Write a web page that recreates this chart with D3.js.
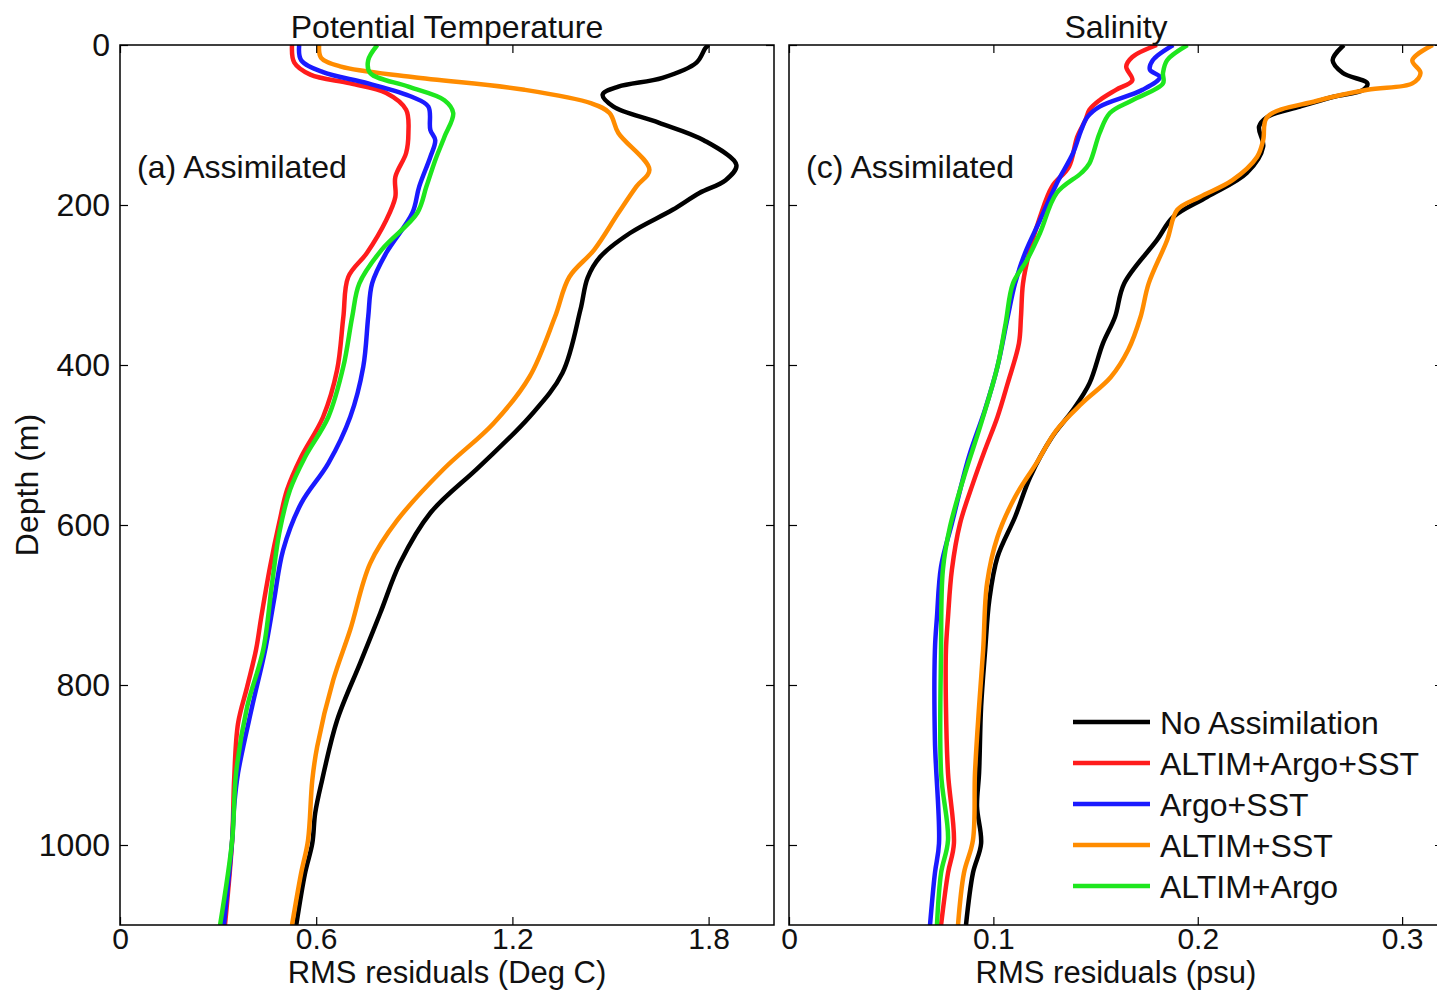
<!DOCTYPE html>
<html>
<head>
<meta charset="utf-8">
<script src="https://cdn.jsdelivr.net/npm/d3@7"></script>
<style>
  body { margin: 0; background: #fff; }
  svg { display: block; }
</style>
</head>
<body>
<svg id="chart"></svg>
<script>
// Series names and colours (legend order)
const seriesNames = ["No Assimilation", "ALTIM+Argo+SST", "Argo+SST", "ALTIM+SST", "ALTIM+Argo"];
const seriesColors = ["#000000", "#ff1c1c", "#1a1aff", "#ff8c00", "#1ee61e"];

// Axis ticks
const depthTicks = [0, 200, 400, 600, 800, 1000];
const tempTicks = [0, 0.6, 1.2, 1.8];
const salTicks = [0, 0.1, 0.2, 0.3];

// Potential temperature RMS residuals, [depth (m), value (deg C)]
const tempNoAssim = [[0,1.80],[4,1.79],[22,1.763],[41,1.659],[52,1.524],[62,1.476],[77,1.509],[97,1.647],[119,1.785],[150,1.885],[169,1.852],[185,1.772],[206,1.69],[235,1.56],[265,1.468],[291,1.430],[331,1.408],[410,1.353],[465,1.252],[527,1.099],[585,0.949],[647,0.857],[710,0.796],[772,0.735],[844,0.664],[919,0.618],[960,0.597],[998,0.588],[1035,0.566],[1100,0.539]];
const tempAltimArgoSst = [[0,0.526],[22,0.533],[37,0.582],[48,0.704],[60,0.814],[81,0.875],[110,0.882],[135,0.875],[165,0.842],[190,0.842],[219,0.814],[260,0.755],[290,0.698],[340,0.683],[406,0.664],[465,0.621],[515,0.554],[556,0.511],[597,0.487],[652,0.459],[715,0.432],[756,0.416],[802,0.389],[848,0.361],[919,0.349],[994,0.343],[1100,0.321]];
const tempArgoSst = [[0,0.548],[19,0.554],[34,0.621],[48,0.759],[65,0.894],[77,0.943],[106,0.949],[119,0.964],[140,0.949],[177,0.915],[210,0.894],[260,0.814],[298,0.771],[340,0.759],[402,0.744],[465,0.704],[523,0.637],[573,0.554],[631,0.499],[694,0.471],[756,0.444],[827,0.404],[910,0.361],[952,0.349],[994,0.343],[1100,0.318]];
const tempAltimSst = [[0,0.609],[16,0.615],[27,0.676],[40,0.894],[56,1.237],[73,1.442],[85,1.497],[110,1.524],[156,1.619],[177,1.579],[210,1.524],[256,1.450],[290,1.374],[340,1.330],[415,1.252],[473,1.142],[530,0.990],[594,0.848],[648,0.765],[731,0.704],[794,0.652],[877,0.603],[919,0.588],[994,0.575],[1035,0.554],[1100,0.526]];
const tempAltimArgo = [[0,0.787],[19,0.759],[35,0.765],[52,0.882],[69,0.992],[85,1.019],[115,0.992],[144,0.964],[177,0.937],[210,0.909],[256,0.800],[298,0.732],[340,0.710],[402,0.683],[465,0.637],[515,0.566],[556,0.520],[610,0.487],[673,0.465],[756,0.438],[827,0.389],[910,0.355],[994,0.343],[1100,0.306]];

// Salinity RMS residuals, [depth (m), value (psu)]
const salNoAssim = [[0,0.2715],[19,0.266],[35,0.271],[48,0.283],[56,0.281],[65,0.266],[77,0.250],[90,0.234],[102,0.230],[127,0.232],[160,0.224],[190,0.2045],[215,0.188],[244,0.180],[298,0.164],[340,0.1595],[373,0.1536],[423,0.147],[456,0.139],[490,0.1287],[540,0.118],[590,0.1106],[640,0.102],[694,0.098],[756,0.096],[827,0.094],[910,0.093],[952,0.092],[998,0.094],[1035,0.090],[1100,0.0866]];
const salAltimArgoSst = [[0,0.180],[15,0.168],[27,0.165],[44,0.168],[56,0.160],[69,0.152],[81,0.147],[94,0.145],[115,0.141],[152,0.137],[177,0.1287],[215,0.1228],[260,0.1175],[298,0.1145],[340,0.1135],[373,0.1125],[423,0.107],[465,0.102],[506,0.0959],[548,0.090],[598,0.0837],[656,0.0797],[715,0.0778],[756,0.0768],[827,0.0768],[910,0.0778],[998,0.0807],[1035,0.0778],[1100,0.0744]];
const salArgoSst = [[0,0.188],[19,0.178],[31,0.1766],[40,0.1815],[56,0.173],[77,0.152],[90,0.146],[106,0.143],[135,0.139],[173,0.131],[219,0.1228],[260,0.1155],[298,0.1106],[340,0.107],[402,0.102],[456,0.0959],[515,0.088],[598,0.0797],[652,0.0744],[715,0.0724],[756,0.0714],[869,0.0714],[998,0.0734],[1035,0.0714],[1100,0.069]];
const salAltimSst = [[0,0.315],[19,0.305],[35,0.309],[48,0.305],[56,0.283],[70,0.258],[90,0.234],[119,0.232],[140,0.229],[169,0.217],[190,0.201],[206,0.190],[244,0.185],[298,0.176],[340,0.172],[381,0.166],[415,0.1575],[448,0.1433],[481,0.131],[523,0.121],[565,0.1106],[615,0.102],[673,0.0969],[756,0.095],[827,0.093],[910,0.091],[994,0.090],[1035,0.0856],[1100,0.0827]];
const salAltimArgo = [[0,0.195],[19,0.185],[35,0.183],[48,0.183],[69,0.168],[85,0.157],[110,0.152],[148,0.147],[160,0.143],[185,0.131],[235,0.1228],[269,0.1164],[298,0.1096],[348,0.106],[402,0.102],[473,0.094],[540,0.0856],[602,0.0788],[656,0.0753],[756,0.0744],[910,0.0744],[994,0.0778],[1035,0.0744],[1100,0.0724]];

const W = 1437, H = 992;
const font = "'Liberation Sans', Arial, Helvetica, sans-serif";
const fs = 32;

const svg = d3.select("#chart").attr("width", W).attr("height", H)
  .style("font-family", font);

svg.append("rect").attr("width", W).attr("height", H).attr("fill", "#fff");

// shared depth range
const plotTop = 45, plotBottom = 925;
const ph = plotBottom - plotTop;
const y = d3.scaleLinear().domain([0, 1100]).range([0, ph]);

const panels = [
  { left: 120, width: 654, domain: [0, 2.0], ticks: tempTicks, title: "Potential Temperature",
    xlabel: "RMS residuals (Deg C)", note: "(a) Assimilated",
    series: [tempNoAssim, tempAltimArgoSst, tempArgoSst, tempAltimSst, tempAltimArgo] },
  { left: 789, width: 654, domain: [0, 0.32], ticks: salTicks, title: "Salinity",
    xlabel: "RMS residuals (psu)", note: "(c) Assimilated",
    series: [salNoAssim, salAltimArgoSst, salArgoSst, salAltimSst, salAltimArgo] }
];

panels.forEach((p, pi) => {
  const x = d3.scaleLinear().domain(p.domain).range([0, p.width]);
  const g = svg.append("g").attr("transform", `translate(${p.left},${plotTop})`);

  g.append("clipPath").attr("id", "clip" + pi)
    .append("rect").attr("width", p.width).attr("height", ph);

  // lines
  const line = d3.line()
    .x(d => x(d[1]))
    .y(d => y(d[0]))
    .curve(d3.curveCatmullRom.alpha(0.5));

  g.append("g").attr("clip-path", `url(#clip${pi})`)
    .selectAll("path")
    .data(p.series)
    .join("path")
    .attr("fill", "none")
    .attr("stroke", (d, i) => seriesColors[i])
    .attr("stroke-width", 4.5)
    .attr("stroke-linejoin", "round")
    .attr("d", line);

  // axes with inward ticks
  const styleAxis = (sel, size) => {
    sel.select(".domain").remove();
    sel.selectAll(".tick line").attr("stroke", "#000").attr("stroke-width", 1.2);
    sel.selectAll("text").attr("font-size", size || fs).attr("fill", "#111").style("font-family", font);
  };

  g.append("g").attr("transform", `translate(0,${ph})`)
    .call(d3.axisBottom(x).tickValues(p.ticks).tickFormat(d => String(d))
      .tickSizeInner(-8).tickSizeOuter(0).tickPadding(3))
    .call(styleAxis, 30);
  g.append("g")
    .call(d3.axisTop(x).tickValues(p.ticks).tickFormat("").tickSizeInner(-8).tickSizeOuter(0))
    .call(styleAxis);
  g.append("g")
    .call(d3.axisLeft(y).tickValues(depthTicks).tickFormat(pi === 0 ? d3.format("d") : "")
      .tickSizeInner(-8).tickSizeOuter(0).tickPadding(10))
    .call(styleAxis);
  g.append("g").attr("transform", `translate(${p.width},0)`)
    .call(d3.axisRight(y).tickValues(depthTicks).tickFormat("").tickSizeInner(-8).tickSizeOuter(0))
    .call(styleAxis);

  // frame
  g.append("rect").attr("width", p.width).attr("height", ph)
    .attr("fill", "none").attr("stroke", "#000").attr("stroke-width", 1.5);

  // title
  g.append("text").attr("x", p.width / 2).attr("y", -7)
    .attr("text-anchor", "middle").attr("font-size", fs).attr("fill", "#111")
    .text(p.title);

  // x label
  g.append("text").attr("x", p.width / 2).attr("y", ph + 58)
    .attr("text-anchor", "middle").attr("font-size", 31).attr("fill", "#111")
    .text(p.xlabel);

  // panel note
  g.append("text").attr("x", 17).attr("y", 133)
    .attr("font-size", fs).attr("fill", "#111")
    .text(p.note);
});

// y label
svg.append("text")
  .attr("transform", `translate(38,${plotTop + ph / 2}) rotate(-90)`)
  .attr("text-anchor", "middle").attr("font-size", fs).attr("fill", "#111")
  .text("Depth (m)");

// legend
const legend = svg.append("g").attr("transform", "translate(1073,722)");
seriesNames.forEach((name, i) => {
  legend.append("line")
    .attr("x1", 0).attr("x2", 77)
    .attr("y1", i * 41).attr("y2", i * 41)
    .attr("stroke", seriesColors[i]).attr("stroke-width", 4.5);
  legend.append("text")
    .attr("x", 87).attr("y", i * 41).attr("dy", "0.36em")
    .attr("font-size", fs).attr("fill", "#111")
    .text(name);
});
</script>
</body>
</html>
